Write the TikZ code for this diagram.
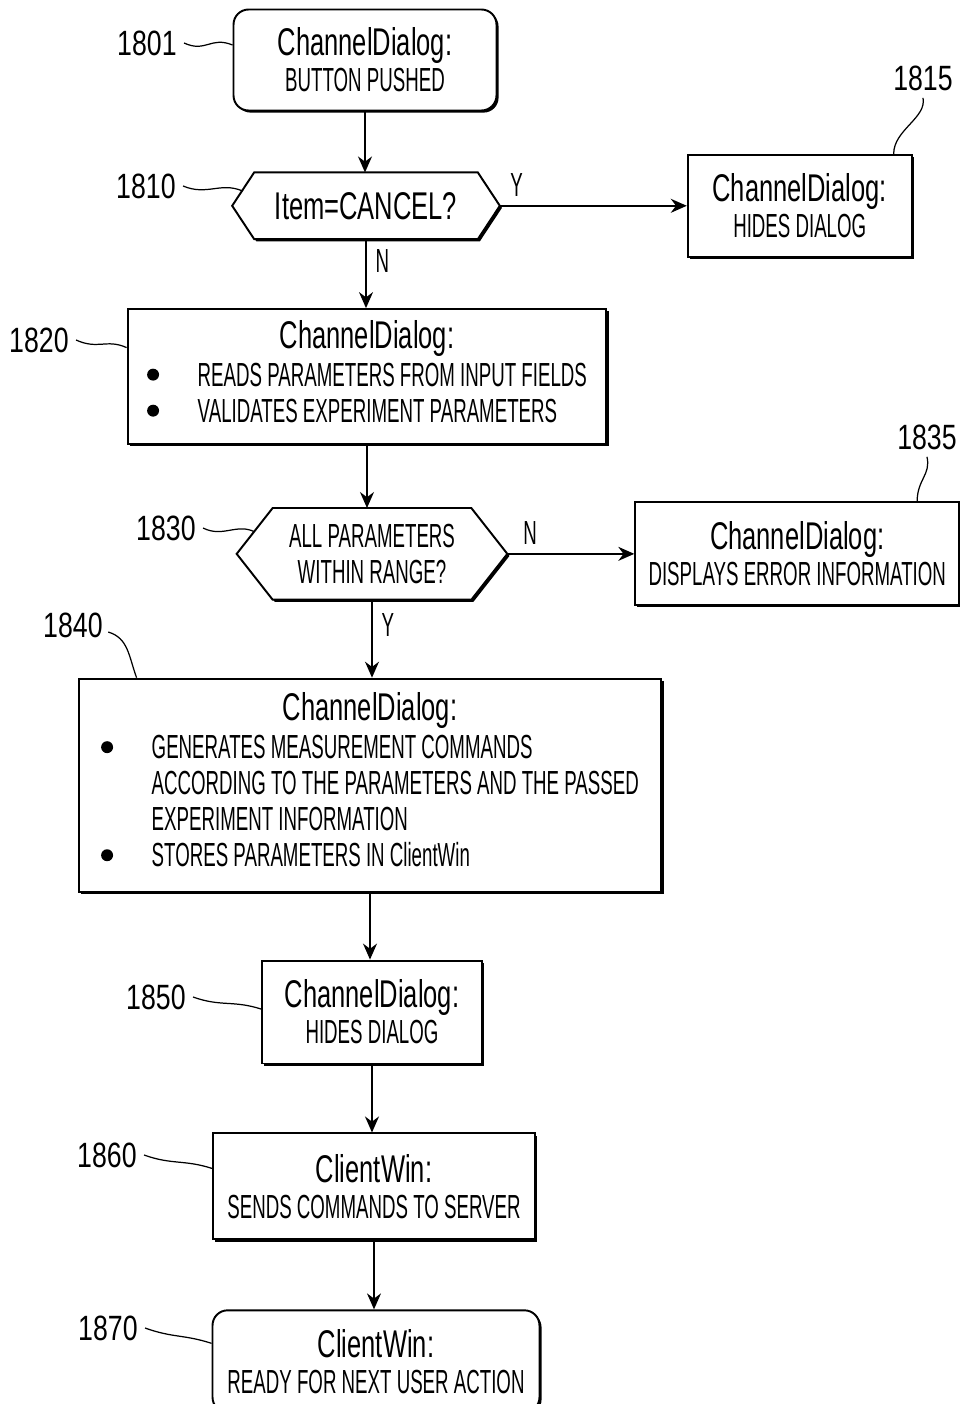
\documentclass[tikz,border=0pt]{standalone}
\usepackage{fontspec}
\setmainfont{Liberation Sans}
\newfontfamily\narrowsf[FakeStretch=0.66]{Liberation Sans}
\newfontfamily\bodysf[FakeStretch=0.56]{Liberation Sans}
\newfontfamily\numsf[FakeStretch=0.76]{Liberation Sans}
\usepackage{tikz}
\usetikzlibrary{arrows.meta}
\usetikzlibrary{backgrounds}
\usetikzlibrary{positioning}
\usetikzlibrary{shadows}

\newcommand{\ttl}[1]{{\narrowsf\fontsize{22}{26}\selectfont #1}}
\newcommand{\blt}{\tikz[baseline=-6.5pt]\fill (0,0) circle (3.4pt);}

\begin{document}
\begin{tikzpicture}
      [x=0.02cm,y=-0.02cm,
       font=\bodysf\fontsize{19}{20.5}\selectfont,
       shd/.style={drop shadow={shadow xshift=1.2pt,shadow yshift=-1.2pt,opacity=1,fill=black}},
       stepbox/.style={rectangle,draw=black,line width=1.1pt,fill=white,align=center,inner sep=2pt,shd},
       endbox/.style={stepbox,rounded corners=0.3cm},
       decision/.style={rectangle,inner sep=0pt,align=center},
       hexline/.style={draw=black,line width=1.1pt,fill=white,shd},
       flow/.style={-{Stealth[length=0.32cm,width=0.28cm]},line width=0.9pt},
       refnum/.style={font=\numsf\fontsize{20}{24}\selectfont,inner sep=0pt},
       leader/.style={line width=0.7pt},
       yn/.style={inner sep=5pt}]
      \useasboundingbox (0,0) rectangle (960,1404);

      % main column
      \node[endbox,minimum width=5.26cm,minimum height=2.02cm] (n1801) at (365,60) {\ttl{ChannelDialog:}\\BUTTON PUSHED};
      \node[decision,minimum width=5.34cm,minimum height=1.32cm] (n1810) [below=1.22cm of n1801,xshift=0.02cm] {\ttl{Item=CANCEL?}};
      \node[stepbox,minimum width=9.58cm,minimum height=2.7cm] (n1820) [below=1.38cm of n1810,xshift=0.02cm]
        {\begin{tabular}{@{}c@{\hspace{22pt}}l@{}}
         \multicolumn{2}{c}{\ttl{ChannelDialog:}}\\[1pt]
         \blt & READS PARAMETERS FROM INPUT FIELDS\\
         \blt & VALIDATES EXPERIMENT PARAMETERS
         \end{tabular}};
      \node[decision,minimum width=5.4cm,minimum height=1.82cm] (n1830) [below=1.26cm of n1820,xshift=0.1cm] {ALL PARAMETERS\\WITHIN RANGE?};
      \node[stepbox,minimum width=11.66cm,minimum height=4.26cm] (n1840) [below=1.56cm of n1830,xshift=-0.04cm]
        {\begin{tabular}{@{}c@{\hspace{22pt}}l@{}}
         \multicolumn{2}{c}{\ttl{ChannelDialog:}}\\[1pt]
         \blt & GENERATES MEASUREMENT COMMANDS\\
              & ACCORDING TO THE PARAMETERS AND THE PASSED\\
              & EXPERIMENT INFORMATION\\
         \blt & STORES PARAMETERS IN ClientWin
         \end{tabular}};
      \node[stepbox,minimum width=4.4cm,minimum height=2.06cm] (n1850) [below=1.34cm of n1840,xshift=0.04cm] {\ttl{ChannelDialog:}\\HIDES DIALOG};
      \node[stepbox,minimum width=6.44cm,minimum height=2.12cm] (n1860) [below=1.36cm of n1850,xshift=0.04cm] {\ttl{ClientWin:}\\SENDS COMMANDS TO SERVER};
      \node[endbox,minimum width=6.54cm,minimum height=2.04cm] (n1870) [below=1.38cm of n1860,xshift=0.04cm] {\ttl{ClientWin:}\\READY FOR NEXT USER ACTION};

      % side boxes
      \node[stepbox,minimum width=4.48cm,minimum height=2.04cm] (n1815) [right=3.74cm of n1810] {\ttl{ChannelDialog:}\\HIDES DIALOG};
      \node[stepbox,minimum width=6.48cm,minimum height=2.06cm] (n1835) [right=2.54cm of n1830] {\ttl{ChannelDialog:}\\DISPLAYS ERROR INFORMATION};

      % decision outlines
      \begin{scope}[on background layer]
        \draw[hexline] (n1810.west) -- ([xshift=0.44cm]n1810.north west) -- ([xshift=-0.44cm]n1810.north east)
          -- (n1810.east) -- ([xshift=-0.44cm]n1810.south east) -- ([xshift=0.44cm]n1810.south west) -- cycle;
        \draw[hexline] (n1830.west) -- ([xshift=0.72cm]n1830.north west) -- ([xshift=-0.72cm]n1830.north east)
          -- (n1830.east) -- ([xshift=-0.72cm]n1830.south east) -- ([xshift=0.72cm]n1830.south west) -- cycle;
      \end{scope}

      % flow
      \draw[flow] (n1801) -- (n1801 |- n1810.north);
      \draw[flow] (n1810) -- node[yn,above,pos=0.09] {Y} (n1815);
      \draw[flow] (n1810) -- node[yn,right,pos=0.32] {N} (n1810 |- n1820.north);
      \draw[flow] (n1820) -- (n1820 |- n1830.north);
      \draw[flow] (n1830) -- node[yn,above,pos=0.18] {N} (n1835);
      \draw[flow] (n1830) -- node[yn,right,pos=0.33] {Y} (n1830 |- n1840.north);
      \draw[flow] (n1840) -- (n1840 |- n1850.north);
      \draw[flow] (n1850) -- (n1850 |- n1860.north);
      \draw[flow] (n1860) -- (n1860 |- n1870.north);

      % reference numerals
      \node[refnum,anchor=east] (r1801) at (177,43) {1801};
      \node[refnum,anchor=east] (r1810) at (176,186) {1810};
      \node[refnum] (r1815) at (923,78) {1815};
      \node[refnum,anchor=east] (r1820) at (69,340) {1820};
      \node[refnum,anchor=east] (r1830) at (196,528) {1830};
      \node[refnum] (r1835) at (927,437) {1835};
      \node[refnum,anchor=east] (r1840) at (103,625) {1840};
      \node[refnum,anchor=east] (r1850) at (186,997) {1850};
      \node[refnum,anchor=east] (r1860) at (137,1155) {1860};
      \node[refnum,anchor=east] (r1870) at (138,1328) {1870};

      \draw[leader] ([xshift=4pt]r1801.east) .. controls +(22,10) and +(-22,-9) .. ([yshift=0.3cm]n1801.west);
      \draw[leader] ([xshift=4pt]r1810.east) .. controls +(24,10) and +(-22,-9) .. ([xshift=0.2cm,yshift=0.3cm]n1810.west);
      \draw[leader] ([xshift=4pt]r1820.east) .. controls +(22,10) and +(-20,-9) .. ([yshift=0.58cm]n1820.west);
      \draw[leader] ([xshift=4pt]r1830.east) .. controls +(20,10) and +(-18,-9) .. ([xshift=0.36cm,yshift=0.44cm]n1830.west);
      \draw[leader] ([xshift=4pt]r1850.east) .. controls +(28,10) and +(-28,-9) .. ([yshift=0.06cm]n1850.west);
      \draw[leader] ([xshift=4pt]r1860.east) .. controls +(28,10) and +(-28,-9) .. ([yshift=0.36cm]n1860.west);
      \draw[leader] ([xshift=4pt]r1870.east) .. controls +(28,10) and +(-28,-9) .. ([yshift=0.36cm]n1870.west);
      \draw[leader] ([yshift=-4pt]r1815.south) .. controls +(4,20) and +(0,-24) .. ([xshift=-0.38cm]n1815.north east);
      \draw[leader] ([yshift=-4pt]r1835.south) .. controls +(4,18) and +(0,-22) .. ([xshift=-0.86cm]n1835.north east);
      \draw[leader] ([xshift=3pt,yshift=-4pt]r1840.east) .. controls +(20,6) and +(-8,-22) .. ([xshift=1.18cm]n1840.north west);
    \end{tikzpicture}
\end{document}
